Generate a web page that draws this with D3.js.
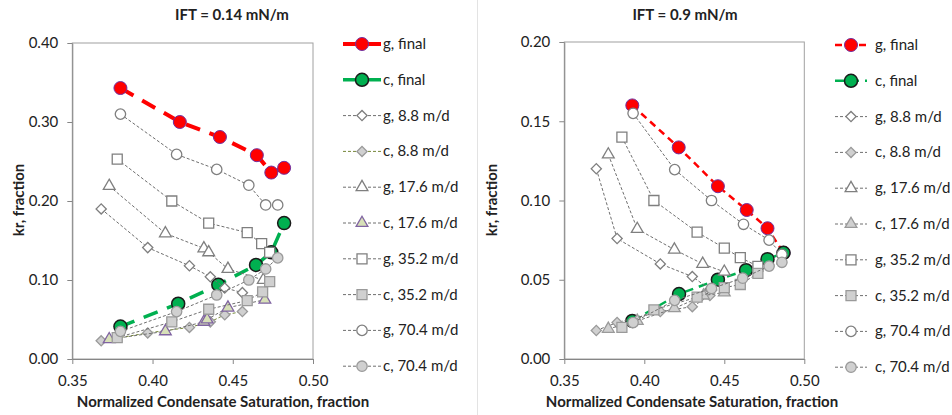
<!DOCTYPE html>
<html>
<head>
<meta charset="utf-8">
<script src="https://cdn.jsdelivr.net/npm/d3@7"></script>
<style>
  body { margin: 0; background: #fff; }
  text { font-family: Lato, "Liberation Sans", sans-serif; fill: #222; }
  .axis path, .axis line { stroke: #868686; }
  .axis text { font-size: 15px; fill: #222; }
</style>
</head>
<body>
<div id="chart"></div>
<script>
// ---- data ----
var xTicks = [0.35, 0.40, 0.45, 0.50];
var leftYTicks = [0.00, 0.10, 0.20, 0.30, 0.40];
var rightYTicks = [0.00, 0.05, 0.10, 0.15, 0.20];
var seriesNames = ["g, final", "c, final", "g, 8.8 m/d", "c, 8.8 m/d", "g, 17.6 m/d",
                   "c, 17.6 m/d", "g, 35.2 m/d", "c, 35.2 m/d", "g, 70.4 m/d", "c, 70.4 m/d"];

// IFT = 0.14 mN/m
var L_gFinal = [[0.380,0.343],[0.417,0.300],[0.442,0.281],[0.465,0.258],[0.474,0.236],[0.482,0.242]];
var L_cFinal = [[0.380,0.041],[0.416,0.070],[0.441,0.094],[0.4645,0.119],[0.474,0.135],[0.482,0.172]];
var L_g88 = [[0.368,0.190],[0.397,0.141],[0.423,0.118],[0.436,0.104],[0.445,0.090],[0.456,0.084]];
var L_c88 = [[0.368,0.023],[0.397,0.033],[0.423,0.040],[0.436,0.047],[0.445,0.056],[0.456,0.060]];
var L_g176 = [[0.373,0.219],[0.408,0.159],[0.432,0.140],[0.435,0.135],[0.447,0.114],[0.469,0.100]];
var L_c176 = [[0.373,0.025],[0.408,0.035],[0.432,0.047],[0.434,0.050],[0.447,0.065],[0.470,0.075]];
var L_g352 = [[0.378,0.253],[0.412,0.200],[0.435,0.172],[0.459,0.160],[0.468,0.146],[0.473,0.135]];
var L_c352 = [[0.378,0.027],[0.412,0.047],[0.435,0.063],[0.459,0.074],[0.4686,0.085],[0.473,0.098]];
var L_g704 = [[0.380,0.310],[0.415,0.259],[0.440,0.240],[0.460,0.220],[0.4705,0.195],[0.478,0.195]];
var L_c704 = [[0.380,0.035],[0.415,0.060],[0.440,0.081],[0.460,0.100],[0.4705,0.114],[0.478,0.128]];

// IFT = 0.9 mN/m
var R_gFinal = [[0.3925,0.160],[0.4215,0.1335],[0.446,0.109],[0.464,0.094],[0.477,0.0825],[0.487,0.067]];
var R_cFinal = [[0.3925,0.024],[0.4217,0.041],[0.446,0.050],[0.4636,0.056],[0.477,0.063],[0.487,0.067]];
var R_g88 = [[0.370,0.120],[0.383,0.076],[0.410,0.060],[0.430,0.052],[0.441,0.044]];
var R_c88 = [[0.370,0.018],[0.383,0.023],[0.410,0.030],[0.430,0.033],[0.441,0.040]];
var R_g176 = [[0.3775,0.129],[0.3956,0.082],[0.4188,0.069],[0.4365,0.060],[0.450,0.055]];
var R_c176 = [[0.3775,0.019],[0.3956,0.024],[0.4188,0.032],[0.437,0.040],[0.450,0.042]];
var R_g352 = [[0.386,0.140],[0.406,0.100],[0.433,0.080],[0.450,0.070],[0.460,0.064],[0.471,0.0585]];
var R_c352 = [[0.386,0.020],[0.406,0.031],[0.433,0.039],[0.450,0.045],[0.460,0.047],[0.471,0.054]];
var R_g704 = [[0.393,0.155],[0.419,0.1195],[0.442,0.100],[0.462,0.085],[0.478,0.075],[0.486,0.066]];
var R_c704 = [[0.393,0.023],[0.419,0.037],[0.442,0.0445],[0.4615,0.051],[0.478,0.0586],[0.486,0.061]];

// ---- styles ----
var gOpen = {fill: "#fff", stroke: "#7f7f7f"};
var cGray = {fill: "#d0d0d0", stroke: "#9a9a9a"};
function seriesStyles(big) {
  return [
    {shape: "circle", r: 6.5, fill: "#ff0000", stroke: "#7030a0", sw: 1, line: "#ff0000",
     lw: big ? 4 : 2.5, dash: big ? "15,10" : "7,5"},
    {shape: "circle", r: 6.5, fill: "#00b050", stroke: "#1a1a1a", sw: 1.5, line: "#00b050",
     lw: big ? 3.5 : 2.5, dash: big ? "15,10" : "9,6"},
    Object.assign({shape: "diamond"}, gOpen),
    Object.assign({shape: "diamond"}, cGray, big ? {line: "#76873a"} : {}),
    Object.assign({shape: "triangle"}, gOpen),
    big ? {shape: "triangle", fill: "#d7e0b8", stroke: "#8064a2"} : Object.assign({shape: "triangle"}, cGray),
    Object.assign({shape: "square"}, gOpen),
    Object.assign({shape: "square"}, cGray),
    Object.assign({shape: "circle"}, gOpen),
    Object.assign({shape: "circle"}, cGray)
  ];
}

var W = 952, H = 415;
var svg = d3.select("#chart").append("svg").attr("width", W).attr("height", H);

// faint chart-area border between the two charts
svg.append("line").attr("x1", 477.5).attr("x2", 477.5).attr("y1", 0).attr("y2", H)
  .attr("stroke", "#e3e3e3");

function symbolPath(s) {
  if (s.shape === "diamond") return d3.symbol(d3.symbolSquare, 52)();
  if (s.shape === "triangle") return d3.symbol(d3.symbolTriangle, 60)();
  if (s.shape === "square") return d3.symbol(d3.symbolSquare, 100)();
  var r = s.r || 5.2;
  return d3.symbol(d3.symbolCircle, Math.PI * r * r)();
}

function drawChart(cfg) {
  var g = svg.append("g");
  var x = d3.scaleLinear().domain([0.35, 0.50]).range([cfg.left, cfg.right]);
  var y = d3.scaleLinear().domain([0, cfg.ymax]).range([359, cfg.top]);
  var styles = seriesStyles(cfg.big);

  g.append("rect")
    .attr("x", cfg.left).attr("y", cfg.top)
    .attr("width", cfg.right - cfg.left).attr("height", 359 - cfg.top)
    .attr("fill", "none").attr("stroke", "#a0a0a0");

  g.append("g").attr("class", "axis")
    .attr("transform", "translate(0,359)")
    .call(d3.axisBottom(x).tickValues(xTicks).tickFormat(d3.format(".2f"))
      .tickSizeInner(5).tickSizeOuter(0).tickPadding(11));
  g.append("g").attr("class", "axis")
    .attr("transform", "translate(" + cfg.left + ",0)")
    .call(d3.axisLeft(y).tickValues(cfg.yTicks).tickFormat(d3.format(".2f"))
      .tickSizeInner(5).tickSizeOuter(0).tickPadding(9));

  var line = d3.line().x(function(d) { return x(d[0]); }).y(function(d) { return y(d[1]); });

  cfg.series.forEach(function(data, i) {
    var s = styles[i];
    g.append("path").datum(data)
      .attr("d", line)
      .attr("fill", "none")
      .attr("stroke", s.line || "#6f6f6f")
      .attr("stroke-width", s.lw || 1)
      .attr("stroke-dasharray", s.dash || "3,2");
    g.append("g").selectAll("path")
      .data(data).enter().append("path")
      .attr("d", symbolPath(s))
      .attr("transform", function(d) {
        return "translate(" + x(d[0]) + "," + y(d[1]) + ")" + (s.shape === "diamond" ? " rotate(45)" : "");
      })
      .attr("fill", s.fill).attr("stroke", s.stroke).attr("stroke-width", s.sw || 1.3);
  });

  // titles
  g.append("text").attr("x", cfg.titleX).attr("y", 20)
    .attr("text-anchor", "middle").attr("font-weight", "bold").attr("font-size", 15)
    .text(cfg.title);
  g.append("text").attr("x", cfg.xLabelX).attr("y", 407)
    .attr("text-anchor", "middle").attr("font-weight", "bold").attr("font-size", 15)
    .text("Normalized Condensate Saturation, fraction");
  g.append("text")
    .attr("transform", "translate(" + cfg.yLabelX + ",200) rotate(-90)")
    .attr("text-anchor", "middle").attr("font-weight", "bold").attr("font-size", 15)
    .text("kr, fraction");

  // legend
  var leg = g.append("g");
  seriesNames.forEach(function(name, i) {
    var s = styles[i];
    var ly = cfg.legY + i * 35.8;
    leg.append("line")
      .attr("x1", cfg.legX1).attr("x2", cfg.legX2).attr("y1", ly).attr("y2", ly)
      .attr("stroke", s.line || "#6f6f6f")
      .attr("stroke-width", s.lw || 1)
      .attr("stroke-dasharray", s.dash || "3,2");
    var mx = (cfg.legX1 + cfg.legX2) / 2;
    leg.append("path")
      .attr("d", symbolPath(s))
      .attr("transform", "translate(" + mx + "," + ly + ")" + (s.shape === "diamond" ? " rotate(45)" : ""))
      .attr("fill", s.fill).attr("stroke", s.stroke).attr("stroke-width", s.sw || 1.3);
    leg.append("text")
      .attr("x", cfg.legX2 + cfg.legGap).attr("y", ly + 5)
      .attr("font-size", 15)
      .text(name);
  });
}

drawChart({
  left: 72.3, right: 313, top: 43, ymax: 0.40, yTicks: leftYTicks, big: true,
  title: "IFT = 0.14 mN/m", titleX: 232, xLabelX: 223, yLabelX: 24,
  legX1: 343, legX2: 381, legY: 44, legGap: 2,
  series: [L_gFinal, L_cFinal, L_g88, L_c88, L_g176, L_c176, L_g352, L_c352, L_g704, L_c704]
});

drawChart({
  left: 564.3, right: 804.3, top: 42, ymax: 0.20, yTicks: rightYTicks, big: false,
  title: "IFT = 0.9 mN/m", titleX: 685, xLabelX: 692, yLabelX: 497,
  legX1: 835, legX2: 867, legY: 45, legGap: 8,
  series: [R_gFinal, R_cFinal, R_g88, R_c88, R_g176, R_c176, R_g352, R_c352, R_g704, R_c704]
});
</script>
</body>
</html>
